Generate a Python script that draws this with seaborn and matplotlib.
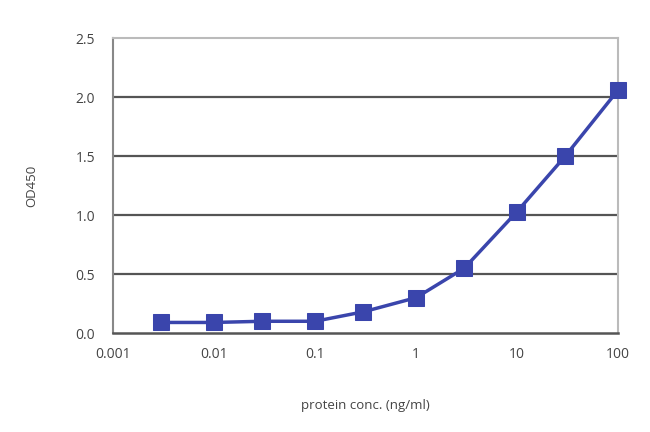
import pandas as pd
import matplotlib
matplotlib.use("Agg")
import matplotlib.pyplot as plt
import seaborn as sns

# Data
conc = [0.003, 0.01, 0.03, 0.1, 0.3, 1, 3, 10, 30, 100]
od450 = [0.09, 0.09, 0.10, 0.10, 0.18, 0.30, 0.55, 1.03, 1.50, 2.06]
x_ticks = [0.001, 0.01, 0.1, 1, 10, 100]
x_tick_labels = ["0.001", "0.01", "0.1", "1", "10", "100"]
y_ticks = [0.0, 0.5, 1.0, 1.5, 2.0, 2.5]

df = pd.DataFrame({"conc": conc, "od": od450})

sns.set_style("white")
plt.rcParams["font.family"] = ["Open Sans", "DejaVu Sans"]

fig = plt.figure(figsize=(6.5, 4.32), dpi=100)
ax = fig.add_axes([0.174, 0.229, 0.777, 0.683])

ax.set_xscale("log")
for y in [0.5, 1.0, 1.5, 2.0]:
    ax.axhline(y, color="#555555", lw=1.6, zorder=1)

sns.lineplot(data=df, x="conc", y="od", ax=ax, color="#3A45AC", lw=2.5,
             marker="s", markersize=11, markeredgecolor="#3A45AC", zorder=3,
             clip_on=False)

ax.set_xlim(0.001, 100)
ax.set_ylim(0, 2.5)
ax.set_xticks(x_ticks)
ax.set_xticklabels(x_tick_labels)
ax.minorticks_off()
ax.set_yticks(y_ticks)
ax.set_yticklabels([f"{v:.1f}" for v in y_ticks])

for side in ["top", "right"]:
    ax.spines[side].set_color("#BBBBBB")
    ax.spines[side].set_linewidth(1.5)
ax.spines["left"].set_color("#888888")
ax.spines["left"].set_linewidth(1.5)
ax.spines["bottom"].set_color("#555555")
ax.spines["bottom"].set_linewidth(1.8)

ax.tick_params(axis="x", direction="in", length=5, width=1.2, color="#555555",
               labelsize=10, labelcolor="#444444", pad=10)
ax.tick_params(axis="y", direction="out", length=5, width=1.2, color="#888888",
               labelsize=10, labelcolor="#444444", pad=8)

ax.set_xlabel("protein conc. (ng/ml)", fontsize=9.5, color="#444444", labelpad=27)
ax.set_ylabel("OD450", fontsize=9.5, color="#444444", labelpad=27)

fig.savefig("out.png", dpi=100)
